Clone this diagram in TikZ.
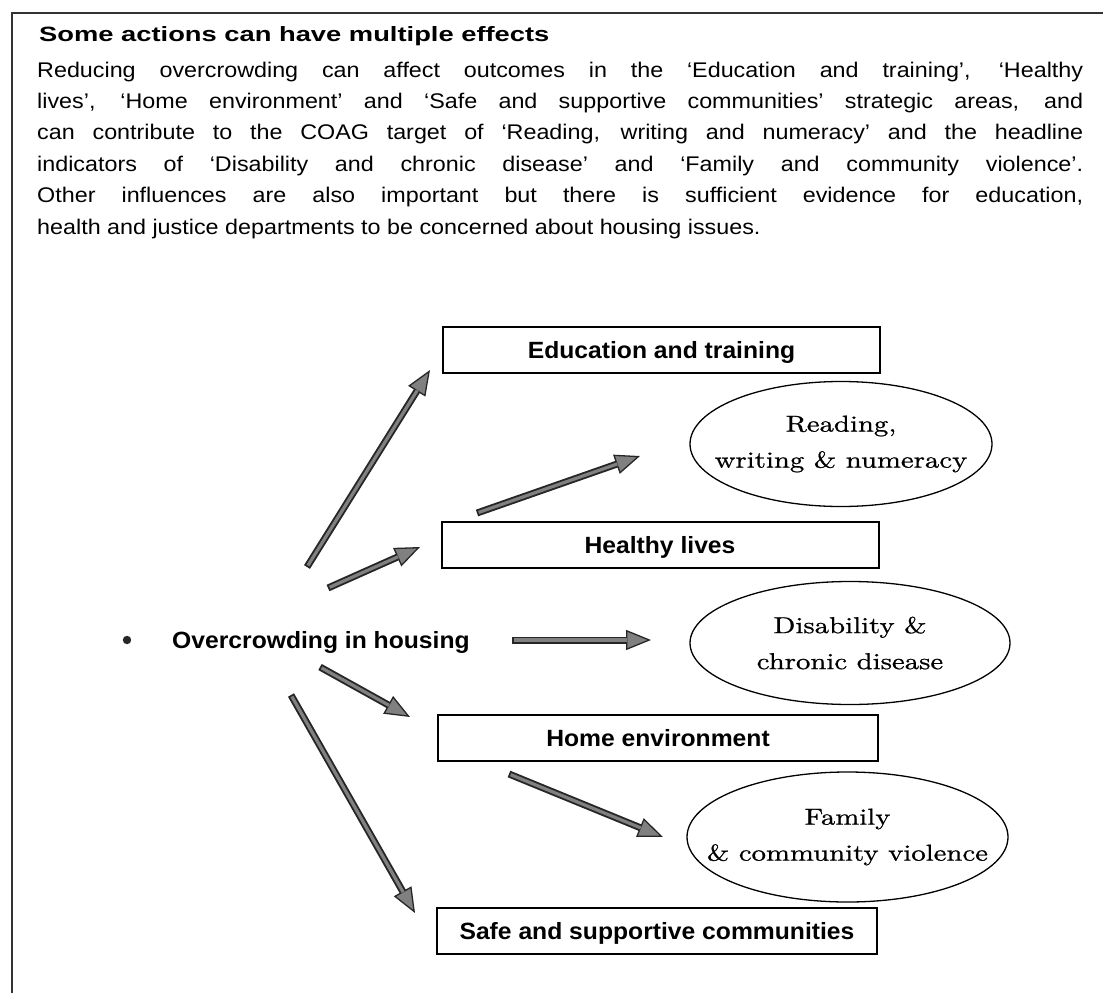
\documentclass[tikz,border=0pt]{standalone}
\usepackage{fontspec}
\usetikzlibrary{arrows.meta,shapes.geometric}
\newfontfamily\bodyfont[FakeStretch=1.1]{Liberation Sans}
\newfontfamily\titlefont[FakeStretch=1.32]{Liberation Sans}
\newfontfamily\labfont[FakeStretch=1.05]{Liberation Sans}
\newfontfamily\ellfont[FakeStretch=1.25,FakeBold=0.8]{lmroman10-regular.otf}
\begin{document}
\begin{tikzpicture}[x=1pt,y=-1pt,
  frame/.style={line width=1.5pt, draw=black!80},
  bodyline/.style={anchor=base west, inner sep=0pt, font=\bodyfont\fontsize{21.2}{31}\selectfont},
  titlestyle/.style={anchor=base west, inner sep=0pt, font=\titlefont\bfseries\fontsize{20.7}{24}\selectfont},
  areabox/.style={draw=black, line width=2pt, rectangle, minimum width=437pt, minimum height=46pt, inner sep=0pt,
      text height=16.8pt, text depth=0pt, font=\labfont\bfseries\fontsize{23.5}{28}\selectfont},
  target/.style={draw=black, line width=1.3pt, ellipse, inner sep=0pt},
  targettext/.style={align=center, inner sep=0pt, font=\ellfont\fontsize{23}{36}\selectfont},
  srclabel/.style={anchor=base west, inner sep=0pt, font=\labfont\bfseries\fontsize{23.5}{28}\selectfont},
  fatarrow/.style={line width=7pt, draw=black!85, -{Triangle[length=25pt,width=20pt,line width=1.3pt,fill=black!50]}},
  fatinner/.style={line width=3.2pt, draw=black!50, shorten >=24pt, shorten <=1.8pt}
]
\useasboundingbox (0,0) rectangle (1103,993);
\fill[white] (0,0) rectangle (1103,993);
% frame
\draw[frame] (12,993) -- (12,13) -- (1103,13);
% title and text
\node[titlestyle] (title) at (39,41) {Some actions can have multiple effects};
\node[bodyline] (p1) at (37,77) {\makebox[1046pt][s]{Reducing overcrowding can affect outcomes in the ‘Education and training’, ‘Healthy}};
\node[bodyline] (p2) at (37,108.4) {\makebox[1046pt][s]{lives’, ‘Home environment’ and ‘Safe and supportive communities’ strategic areas, and}};
\node[bodyline] (p3) at (37,139.8) {\makebox[1046pt][s]{can contribute to the COAG target of ‘Reading, writing and numeracy’ and the headline}};
\node[bodyline] (p4) at (37,171.2) {\makebox[1046pt][s]{indicators of ‘Disability and chronic disease’ and ‘Family and community violence’.}};
\node[bodyline] (p5) at (37,202.6) {\makebox[1046pt][s]{Other influences are also important but there is sufficient evidence for education,}};
\node[bodyline] (p6) at (37,234) {health and justice departments to be concerned about housing issues.};
% source
\fill[black!85] (127,640) circle (4.2pt);
\node[srclabel] (src) at (172,648) {Overcrowding in housing};
% strategic area boxes
\node[areabox] (edu) at (661.5,350) {Education and training};
\node[areabox] (health) at (660,545) {Healthy lives};
\node[areabox, minimum width=440pt] (home) at (658,738) {Home environment};
\node[areabox, minimum width=440pt] (safe) at (657,931) {Safe and supportive communities};
% targets / indicators
\node[target, minimum width=302pt, minimum height=125pt] (rwn) at (841,444) {};
\node[targettext] (rwnt) at (rwn.center) {Reading,\\writing \& numeracy};
\node[target, minimum width=320pt, minimum height=123pt] (dis) at (850,643) {};
\node[targettext] (dist) at (dis.center) {Disability \&\\chronic disease};
\node[target, minimum width=321pt, minimum height=130pt] (fam) at (847.5,837) {};
\node[targettext] (famt) at (fam.center) {Family\\\& community violence};
% arrow end points
\coordinate (a1s) at (307,567); \coordinate (a1t) at (430,370);
\coordinate (a2s) at (328,588); \coordinate (a2t) at (420,547);
\coordinate (a3s) at (477,513); \coordinate (a3t) at (640,456);
\coordinate (a4s) at (512,640); \coordinate (a4t) at (651,640);
\coordinate (a5s) at (320,667); \coordinate (a5t) at (410,717);
\coordinate (a6s) at (291,695); \coordinate (a6t) at (415,913);
\coordinate (a7s) at (509,774); \coordinate (a7t) at (663,837);
\foreach \i in {1,...,7}{
  \draw[fatarrow] (a\i s) -- (a\i t);
  \draw[fatinner] (a\i s) -- (a\i t);
}
\end{tikzpicture}
\end{document}
